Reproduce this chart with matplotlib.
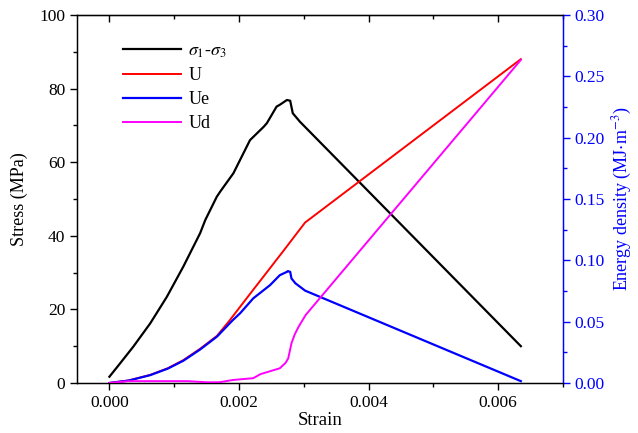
import matplotlib
matplotlib.use("Agg")
import matplotlib.pyplot as plt
import numpy as np

plt.rcParams['font.family'] = ['Liberation Serif', 'DejaVu Serif']
plt.rcParams['mathtext.fontset'] = 'stix'
plt.rcParams['font.size'] = 12

# stress-strain curve
strain_s = [0.0, 0.00015, 0.00037, 0.00063, 0.000886, 0.00114, 0.0014, 0.00148, 0.001657, 0.00171,
            0.001914, 0.00217, 0.00238, 0.00243, 0.00258, 0.00263, 0.00274, 0.00279, 0.00283,
            0.00294, 0.00635]
stress = [1.7, 5.0, 9.9, 16.2, 23.4, 31.6, 40.7, 44.3, 50.6, 52.0,
          57.0, 66.0, 69.6, 70.6, 75.1, 75.6, 76.9, 76.7, 73.3,
          71.0, 10.0]

# energy densities (MJ/m^3)
strain_u = [0.0, 0.0003, 0.00063, 0.0009, 0.00114, 0.0014, 0.00166, 0.00186, 0.00217, 0.00243,
            0.00269, 0.00302, 0.00635]
U = [0.0, 0.0021, 0.0066, 0.012, 0.0186, 0.0279, 0.0384, 0.0513, 0.0726, 0.0903,
     0.108, 0.1308, 0.264]

strain_ue = [0.0, 0.0003, 0.00063, 0.0009, 0.00114, 0.0014, 0.00166, 0.0019, 0.00202, 0.00222,
             0.00248, 0.00263, 0.00274, 0.002753, 0.00279, 0.00281, 0.00287, 0.00302, 0.00635]
Ue = [0.0, 0.002, 0.0064, 0.0117, 0.0181, 0.0273, 0.0378, 0.051, 0.057, 0.069,
      0.0798, 0.0879, 0.0906, 0.0912, 0.0906, 0.0852, 0.0813, 0.0753, 0.0015]

strain_ud = [0.0, 0.0003, 0.0012, 0.0015, 0.0017, 0.0019, 0.00202, 0.00222, 0.00233, 0.00263,
             0.00272, 0.00276, 0.00281, 0.00286, 0.00292, 0.00303, 0.00635]
Ud = [0.0, 0.0015, 0.0015, 0.0006, 0.0006, 0.0024, 0.003, 0.0039, 0.0072, 0.012,
      0.0165, 0.0201, 0.0324, 0.0396, 0.0459, 0.0555, 0.2634]

fig = plt.figure(figsize=(6.38, 4.33), dpi=100)
ax = fig.add_axes([0.1207, 0.1155, 0.7617, 0.8499])
ax2 = ax.twinx()

l1, = ax.plot(strain_s, stress, color='black', lw=1.6, label=r'$\sigma_1$-$\sigma_3$')
l2, = ax2.plot(strain_u, U, color='red', lw=1.4, label='U')
l3, = ax2.plot(strain_ue, Ue, color='blue', lw=1.6, label='Ue')
l4, = ax2.plot(strain_ud, Ud, color='magenta', lw=1.4, label='Ud')

ax.set_xlim(-0.0005, 0.007)
ax.set_ylim(0, 100)
ax2.set_ylim(0, 0.30)

ax.set_xticks([0.0, 0.002, 0.004, 0.006])
ax.set_xticks(np.arange(0.0, 0.0071, 0.001), minor=True)
ax.set_xticklabels(['0.000', '0.002', '0.004', '0.006'])
ax.set_yticks([0, 20, 40, 60, 80, 100])
ax.set_yticks(np.arange(10, 100, 20), minor=True)
ax2.set_yticks([0.0, 0.05, 0.10, 0.15, 0.20, 0.25, 0.30])
ax2.set_yticks(np.arange(0.025, 0.3, 0.05), minor=True)
ax2.set_yticklabels(['0.00', '0.05', '0.10', '0.15', '0.20', '0.25', '0.30'])

ax.tick_params(which='major', direction='out', length=5, width=1, labelsize=12.5)
ax.tick_params(which='minor', direction='out', length=3, width=1)
ax2.tick_params(axis='y', which='both', colors='blue', direction='out', labelsize=12.5)
ax2.tick_params(which='major', length=5, width=1)
ax2.tick_params(which='minor', length=3, width=1)

sec = ax.secondary_xaxis('top')
sec.set_xticks([0.0, 0.002, 0.004, 0.006])
sec.set_xticks(np.arange(0.0, 0.0071, 0.001), minor=True)
sec.tick_params(which='major', direction='in', length=5, width=1, labeltop=False)
sec.tick_params(which='minor', direction='in', length=3, width=1, labeltop=False)

for s in ['left', 'bottom', 'top']:
    ax.spines[s].set_linewidth(1.0)
ax2.spines['right'].set_color('blue')
ax2.spines['right'].set_linewidth(1.0)
ax.spines['right'].set_color('blue')

ax.set_xlabel('Strain', fontsize=13.5, labelpad=1)
ax.set_ylabel('Stress (MPa)', fontsize=13, labelpad=8)
ax2.set_ylabel(r'Energy density (MJ$\cdot$m$^{-3}$)', fontsize=13, color='blue', labelpad=4)

ax.legend(handles=[l1, l2, l3, l4], loc='upper left', bbox_to_anchor=(0.062, 0.97),
          frameon=False, handlelength=3.2, handletextpad=0.4, labelspacing=0.4, fontsize=13)

fig.savefig('out.png', dpi=100)
